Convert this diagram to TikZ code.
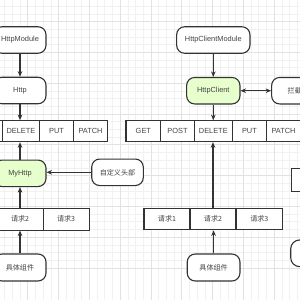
\documentclass[tikz,border=0pt]{standalone}
\usepackage{fontspec}
\setmainfont{Liberation Sans}
\newfontfamily\cjk{Noto Sans CJK SC}
\usetikzlibrary{arrows.meta}
\definecolor{ln}{HTML}{333333}
\definecolor{tx}{HTML}{444444}
\definecolor{gmin}{HTML}{F1F1F1}
\definecolor{gmaj}{HTML}{E2E2E2}
\definecolor{grn}{HTML}{E6FFCC}
\tikzset{
  rbox/.style={draw=ln, line width=1.1pt, rounded corners=8pt, minimum width=52pt, minimum height=26.5pt, inner sep=0pt, text=tx, fill=white, font=\fontsize{7.4}{8}\selectfont},
  gbox/.style={rbox, fill=grn},
  cellbox/.style={draw=ln, line width=1.1pt, minimum height=21pt, inner sep=0pt, text=tx, fill=white, font=\fontsize{7.4}{8}\selectfont},
  reqbox/.style={cellbox, minimum height=21.7pt, minimum width=46pt},
  arr/.style={-{Stealth[length=5.5pt,width=4.6pt]}, line width=1.1pt, draw=ln},
  darr/.style={{Stealth[length=5.5pt,width=4.6pt]}-{Stealth[length=5.5pt,width=4.6pt]}, line width=1.1pt, draw=ln}
}
\newcommand{\zh}[1]{{\cjk\fontsize{7.1}{8}\selectfont #1}}
\begin{document}
\begin{tikzpicture}[x=1pt,y=-1pt]
\useasboundingbox (0,0) rectangle (300,300);
\clip (0,0) rectangle (300,300);
\fill[white] (0,0) rectangle (300,300);
% grid
\foreach \i in {-12,...,28}{
  \draw[gmin, line width=0.5pt] ({89.3+7.7*\i},0) -- ({89.3+7.7*\i},300);
  \draw[gmin, line width=0.5pt] (0,{52.3+7.7*\i}) -- (300,{52.3+7.7*\i});
}
\foreach \i in {-3,...,7}{
  \draw[gmaj, line width=0.5pt] ({89.3+30.8*\i},0) -- ({89.3+30.8*\i},300);
  \draw[gmaj, line width=0.5pt] (0,{52.3+30.8*\i}) -- (300,{52.3+30.8*\i});
}
% left column
\node[rbox] (hm) at (20,40) {HttpModule};
\node[rbox] (http) at (20,90.5) {Http};
\node[cellbox, minimum width=34pt] (lget) at (-48,131.2) {};
\node[cellbox, minimum width=33.5pt] (lpost) at (-14.25,131.2) {};
\node[cellbox, minimum width=37pt] (ldel) at (21,131.2) {DELETE};
\node[cellbox, minimum width=34pt] (lput) at (56.5,131.2) {PUT};
\node[cellbox, minimum width=34pt] (lpatch) at (90.5,131.2) {PATCH};
\node[gbox] (my) at (20,173.3) {MyHttp};
\node[rbox, minimum width=51.6pt] (hdr) at (117.5,172.3) {\zh{自定义头部}};
\node[reqbox] (lr1) at (-26,219.2) {};
\node[reqbox] (lr2) at (20.1,219.2) {\zh{请求2}};
\node[reqbox] (lr3) at (66.1,219.2) {\zh{请求3}};
\node[rbox, minimum height=27pt] (lcomp) at (20,267.5) {\zh{具体组件}};
% right column
\node[rbox, minimum width=73.3pt] (hcm) at (213.3,40) {HttpClientModule};
\node[gbox, minimum width=53.3pt] (hc) at (213.3,90.7) {HttpClient};
\node[rbox, minimum width=53.3pt] (lj) at (298.3,90.7) {\zh{拦截器}};
\node[cellbox, minimum width=34.7pt] (rget) at (143.35,131.2) {GET};
\node[cellbox, minimum width=33.6pt] (rpost) at (177.5,131.2) {POST};
\node[cellbox, minimum width=38pt] (rdel) at (213.3,131.2) {DELETE};
\node[cellbox, minimum width=34.2pt] (rput) at (249.4,131.2) {PUT};
\node[cellbox, minimum width=34pt] (rpatch) at (283.5,131.2) {PATCH};
\node[reqbox] (rr1) at (167,219) {\zh{请求1}};
\node[reqbox] (rr2) at (213,219) {\zh{请求2}};
\node[reqbox, minimum width=46.7pt] (rr3) at (259.35,219) {\zh{请求3}};
\node[rbox, minimum width=52.7pt, minimum height=27pt] (rcomp) at (213.6,267.5) {\zh{具体组件}};
% partial shapes at right edge
\node[draw=ln, line width=1.1pt, fill=white, minimum width=40pt, minimum height=23.4pt, inner sep=0pt] (pr) at (311.7,180) {};
\node[draw=ln, line width=1.1pt, fill=white, rounded corners=9pt, minimum width=50pt, minimum height=26.7pt, inner sep=0pt] (pe) at (315.7,253.3) {};
% connectors left
\draw[arr] (hm.south) -- (http.north);
\draw[arr] (http.south) -- (http.south |- ldel.north);
\draw[arr] (my.north) -- (my.north |- ldel.south);
\draw[arr] (hdr.west) -- (hdr.west -| my.east);
\draw[arr] (lr2.north -| my.south) -- (my.south);
\draw[arr] (lcomp.north) -- (lcomp.north |- lr2.south);
% connectors right
\draw[arr] (hcm.south) -- (hc.north);
\draw[darr] (hc.east) -- (lj.west);
\draw[arr] (hc.south) -- (hc.south |- rdel.north);
\draw[arr] (rr2.north) -- (rr2.north |- rdel.south);
\draw[arr] (rcomp.north) -- (rcomp.north |- rr2.south);
\end{tikzpicture}
\end{document}
